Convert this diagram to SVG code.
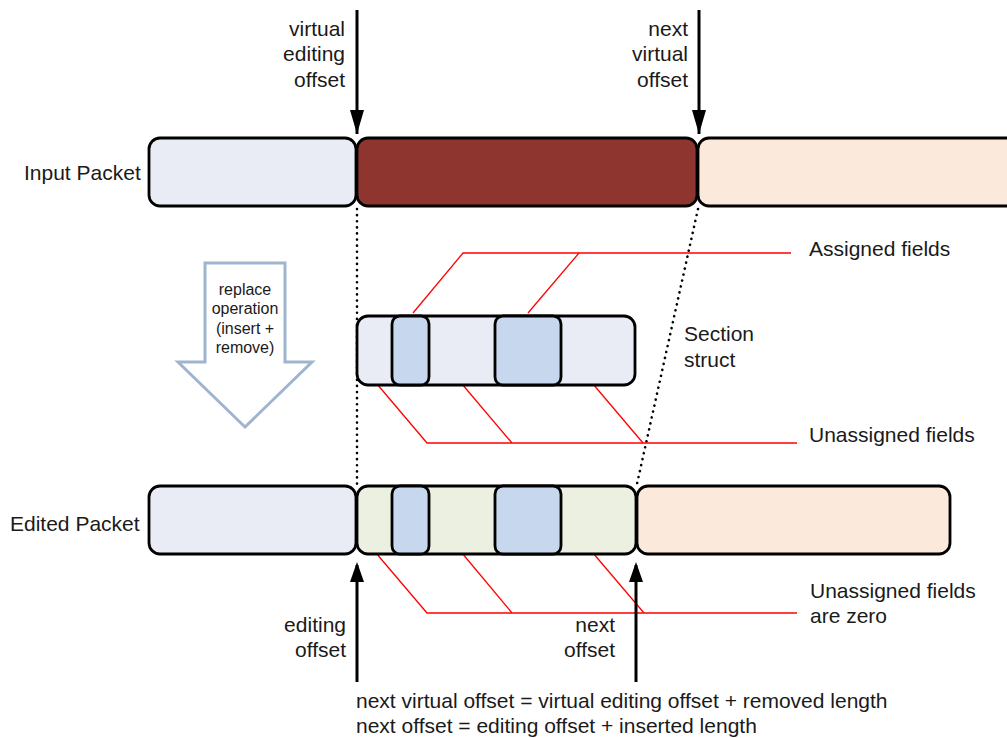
<svg xmlns="http://www.w3.org/2000/svg" width="1007" height="738" viewBox="0 0 1007 738">
<style>
.t{font-family:"Liberation Sans",Arial,sans-serif;font-size:21px;fill:#1a1a1a}
.s{font-family:"Liberation Sans",Arial,sans-serif;font-size:16px;fill:#1a1a1a}
.r{text-anchor:end}
.m{text-anchor:middle}
.box{stroke:#000;stroke-width:2.8}
.blue{fill:#e9ecf4}
.brown{fill:#8f3530}
.peach{fill:#fbeadb}
.green{fill:#ebf0e0}
.field{fill:#c6d7ee}
.red{fill:none;stroke:#ff0000;stroke-width:1.3}
.dot{fill:none;stroke:#000;stroke-width:2.6;stroke-dasharray:0.1 6;stroke-linecap:round}
</style>

<g id="connectors">
<line class="dot" x1="357" y1="209" x2="357" y2="484"/>
<line class="dot" x1="698" y1="209" x2="637" y2="484"/>
<polyline class="red" points="413,313 463,253 791,253"/>
<line class="red" x1="528" y1="313" x2="579" y2="253"/>
<polyline class="red" points="377,384 427,443 797,443"/>
<line class="red" x1="462" y1="384" x2="512" y2="443"/>
<line class="red" x1="593" y1="384" x2="643" y2="443"/>
<polyline class="red" points="376,553 427,613 797,613"/>
<line class="red" x1="462" y1="553" x2="512" y2="613"/>
<line class="red" x1="593" y1="553" x2="644" y2="613"/>
<path d="M357,10 V134" fill="none" stroke="#000" stroke-width="3"/>
<path d="M350,110 L364,110 L357,134 Z" fill="#000"/>
<path d="M699,10 V134" fill="none" stroke="#000" stroke-width="3"/>
<path d="M692,110 L706,110 L699,134 Z" fill="#000"/>
<path d="M357,682 V565" fill="none" stroke="#000" stroke-width="3"/>
<path d="M350,582 L364,582 L357,562 Z" fill="#000"/>
<path d="M636,682 V565" fill="none" stroke="#000" stroke-width="3"/>
<path d="M629,582 L643,582 L636,562 Z" fill="#000"/>
</g>

<g id="input-packet">
<rect class="box blue" x="149" y="138" width="207" height="68" rx="11"/>
<rect class="box brown" x="357" y="138" width="340" height="68" rx="11"/>
<rect class="box peach" x="698" y="138" width="330" height="68" rx="11"/>
<text class="t" x="24" y="180">Input Packet</text>
</g>

<g id="section-struct">
<rect class="box blue" x="357" y="316" width="278" height="69" rx="11"/>
<rect class="box field" x="392" y="316" width="37" height="69" rx="8"/>
<rect class="box field" x="495" y="316" width="66" height="69" rx="8"/>
<text class="t" x="684" y="341">Section</text>
<text class="t" x="684" y="367">struct</text>
</g>

<g id="edited-packet">
<rect class="box blue" x="149" y="486" width="207" height="68" rx="11"/>
<rect class="box green" x="357" y="486" width="279" height="68" rx="11"/>
<rect class="box field" x="392" y="486" width="37" height="68" rx="8"/>
<rect class="box field" x="495" y="486" width="66" height="68" rx="8"/>
<rect class="box peach" x="637" y="486" width="313" height="68" rx="11"/>
<text class="t" x="10" y="531">Edited Packet</text>
</g>

<g id="replace-arrow">
<path d="M205,263 H285 V362 H312 L245,427 L178,362 H205 Z" fill="#fff" stroke="#9fb5cf" stroke-width="3"/>
<text class="s m" x="245" y="295">replace</text>
<text class="s m" x="245" y="314">operation</text>
<text class="s m" x="245" y="334">(insert +</text>
<text class="s m" x="245" y="353">remove)</text>
</g>

<g id="labels">
<text class="t r" x="345" y="36">virtual</text>
<text class="t r" x="345" y="61">editing</text>
<text class="t r" x="345" y="87">offset</text>
<text class="t r" x="688" y="36">next</text>
<text class="t r" x="688" y="61">virtual</text>
<text class="t r" x="688" y="87">offset</text>
<text class="t" x="809" y="256">Assigned fields</text>
<text class="t" x="809" y="442">Unassigned fields</text>
<text class="t" x="810" y="598">Unassigned fields</text>
<text class="t" x="810" y="623">are zero</text>
<text class="t r" x="346" y="632">editing</text>
<text class="t r" x="346" y="657">offset</text>
<text class="t r" x="615" y="632">next</text>
<text class="t r" x="615" y="657">offset</text>
<text class="t" x="356" y="708">next virtual offset = virtual editing offset + removed length</text>
<text class="t" x="356" y="733">next offset = editing offset + inserted length</text>
</g>
</svg>
